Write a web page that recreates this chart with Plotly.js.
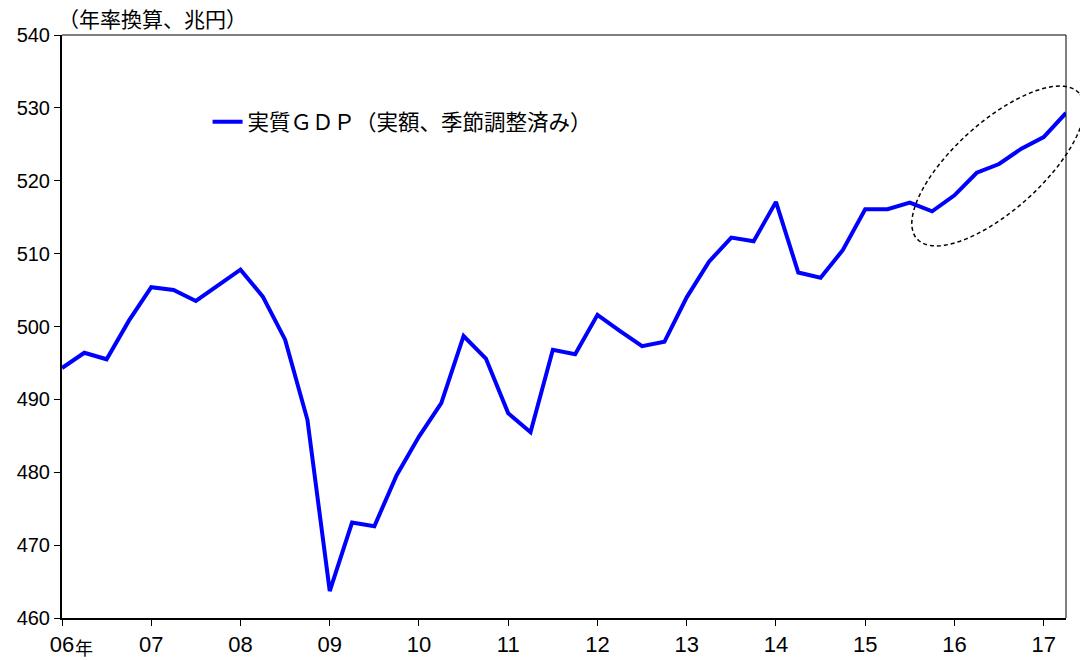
<!DOCTYPE html>
<html>
<head>
<meta charset="utf-8">
<script src="https://cdn.plot.ly/plotly-3.0.1.min.js"></script>
<style>
  body { margin: 0; background: #fff; }
  #chart { width: 1080px; height: 660px; }
</style>
</head>
<body>
<div id="chart"></div>
<script>
// 実質GDP（年率換算、兆円） 2006Q1 - 2017Q2
const gdp = [
    494.3, 496.4, 495.5, 500.8,   // 06
    505.4, 505.0, 503.5, 505.7,   // 07
    507.8, 504.1, 498.2, 487.2,   // 08
    463.7, 473.1, 472.6, 479.6,   // 09
    484.9, 489.5, 498.7, 495.6,   // 10
    488.1, 485.5, 496.8, 496.2,   // 11
    501.6, 499.4, 497.3, 497.9,   // 12
    504.0, 508.9, 512.2, 511.7,   // 13
    517.1, 507.4, 506.7, 510.5,   // 14
    516.1, 516.1, 517.0, 515.8,   // 15
    518.0, 521.1, 522.3, 524.4,   // 16
    526.0, 529.3                  // 17
];
const quarterIdx = gdp.map((_, i) => i);
const yearTickVals = [0, 4, 8, 12, 16, 20, 24, 28, 32, 36, 40, 44];
const yearTickText = ['06', '07', '08', '09', '10', '11', '12', '13', '14', '15', '16', '17'];

const jpFont = '"Noto Sans CJK JP", "Noto Sans", sans-serif';
const numFont = '"Liberation Sans Narrow", "Arial Narrow", "Liberation Sans", sans-serif';

// plot area in pixels (for paper-ref shapes)
const W = 1080, H = 660;
const margin = { l: 62, r: 14, t: 35, b: 42 };
const plotW = W - margin.l - margin.r;
const plotH = H - margin.t - margin.b;

// dashed ellipse around the recent upturn (pixel geometry -> paper coords)
function ellipsePath(cx, cy, a, b, deg) {
    const th = deg * Math.PI / 180;
    let d = '';
    for (let k = 0; k <= 90; k++) {
        const t = k / 90 * 2 * Math.PI;
        const px = cx + a * Math.cos(t) * Math.cos(th) - b * Math.sin(t) * Math.sin(th);
        const py = cy - (a * Math.cos(t) * Math.sin(th) + b * Math.sin(t) * Math.cos(th));
        const fx = (px - margin.l) / plotW;
        const fy = 1 - (py - margin.t) / plotH;
        d += (k === 0 ? 'M' : 'L') + fx.toFixed(4) + ',' + fy.toFixed(4);
    }
    return d + 'Z';
}

const trace = {
    x: quarterIdx,
    y: gdp,
    type: 'scatter',
    mode: 'lines',
    name: '実質ＧＤＰ（実額、季節調整済み）',
    line: { color: '#0000ff', width: 4 },
    hoverinfo: 'y'
};

const layout = {
    width: W,
    height: H,
    margin: margin,
    paper_bgcolor: '#ffffff',
    plot_bgcolor: '#ffffff',
    showlegend: true,
    legend: {
        x: 0.145,
        y: 0.851,
        xanchor: 'left',
        yanchor: 'middle',
        bgcolor: 'rgba(0,0,0,0)',
        borderwidth: 0,
        font: { family: jpFont, size: 21.5, color: '#000' }
    },
    xaxis: {
        range: [0, 45],
        tickvals: yearTickVals,
        ticktext: yearTickText,
        ticks: 'outside',
        ticklen: 6,
        tickwidth: 1,
        tickcolor: '#000',
        showgrid: false,
        zeroline: false,
        showline: true,
        linecolor: '#000',
        linewidth: 2,
        tickfont: { family: numFont, size: 22, color: '#000' }
    },
    yaxis: {
        range: [460, 540],
        dtick: 10,
        ticks: 'outside',
        ticklen: 6,
        tickwidth: 1,
        tickcolor: '#000',
        showgrid: false,
        zeroline: false,
        showline: true,
        linecolor: '#000',
        linewidth: 2,
        tickfont: { family: numFont, size: 20, color: '#000' }
    },
    shapes: [
        // thin top / right frame
        { type: 'line', xref: 'paper', yref: 'paper', x0: 0, x1: 1, y0: 1, y1: 1,
          line: { color: '#000', width: 1 } },
        { type: 'line', xref: 'paper', yref: 'paper', x0: 1, x1: 1, y0: 0, y1: 1,
          line: { color: '#000', width: 1 } },
        { type: 'path', xref: 'paper', yref: 'paper',
          path: ellipsePath(998, 166, 109, 44, 42),
          line: { color: '#000', width: 1.5, dash: '4px,3px' } }
    ],
    annotations: [
        { text: '（年率換算、兆円）', xref: 'paper', yref: 'paper',
          x: -0.006, y: 1, xanchor: 'left', yanchor: 'bottom', yshift: 0,
          showarrow: false, font: { family: jpFont, size: 21, color: '#000' } },
        { text: '年', xref: 'paper', yref: 'paper',
          x: (84 - margin.l) / plotW, y: 0, xanchor: 'center', yanchor: 'top', yshift: -14,
          showarrow: false, font: { family: jpFont, size: 18, color: '#000' } }
    ]
};

const config = { displayModeBar: false, responsive: false };

Plotly.newPlot('chart', [trace], layout, config);
</script>
</body>
</html>
